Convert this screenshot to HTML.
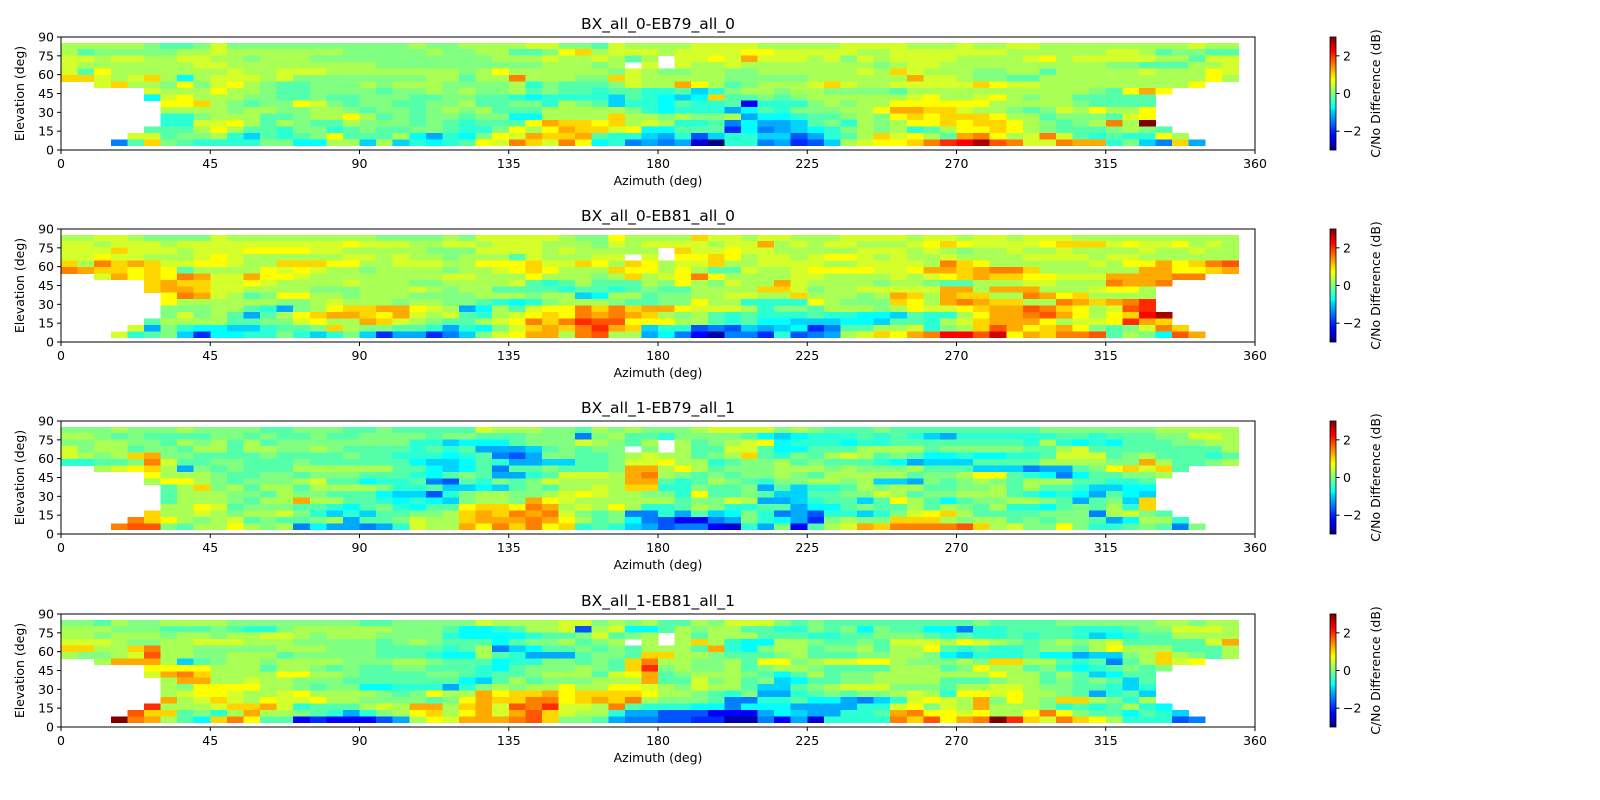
<!DOCTYPE html>
<html><head><meta charset="utf-8">
<style>
html,body{margin:0;padding:0;background:#fff;}
svg{display:block;font-family:"DejaVu Sans","Liberation Sans",sans-serif;}
</style></head>
<body>
<svg id="fig" width="1600" height="800" viewBox="0 0 1600 800" xmlns="http://www.w3.org/2000/svg">
<defs>
<linearGradient id="jet" x1="0" y1="1" x2="0" y2="0">
<stop offset="0" stop-color="#000080"/><stop offset="0.11" stop-color="#0000ff"/><stop offset="0.125" stop-color="#0000ff"/><stop offset="0.34" stop-color="#00ccff"/><stop offset="0.375" stop-color="#00ffff"/><stop offset="0.5" stop-color="#80ff80"/><stop offset="0.625" stop-color="#ffff00"/><stop offset="0.66" stop-color="#ffe000"/><stop offset="0.875" stop-color="#ff0000"/><stop offset="1" stop-color="#800000"/>
</linearGradient>
</defs>
</svg>
<script>
// Data: each char is a value level: a=-3 ... m=0 ... y=+3 (step 0.25); '.' = no data
// rows from top (elev ~85) to bottom (elev ~5); 71 azimuth bins of 5 deg
const titles = ["BX_all_0-EB79_all_0","BX_all_0-EB81_all_0","BX_all_1-EB79_all_1","BX_all_1-EB81_all_1"];
const xTicks = [0,45,90,135,180,225,270,315,360];
const yTicks = [0,15,30,45,60,75,90];
const cbTicks = [-2,0,2];
const cbTickLabels = ["\u22122","0","2"];
const azStep = 5;
const elTop = 85.4;
const elStep = 5.125;
const vmin = -3, vmax = 3;

const panel1 = [
"nnnnn mllmo mmmmm mmmmm mnmmn nnnoo mmlon nnnoo oonnn nnooo onnno nnoon nnnnn nnnon n",
"nlmmm mmnno nnnnn nnmmm mmnmm nnllm pqnoo onooo oppoo ooonn ooooo oonnn nnnoo nlmml l",
"oonoo nnoon nmnnn mmmmm mmmmm mnnno nnonl n.oop orooo nomon oooon nnnop noooo onnlo o",
"onnnn nnnoo nnnnn nnnnm mmmmm mmmmn nnmn. o.onn onnnn nnnnm noonn nnnnn nnnmm lllnn o",
"olpnn nnnnn onnoo onnnn nnnnm npnnn nnnmo nmmnn mmnnn nnnon qonnn mmnnl nnnnn onnnp o",
"qqono qnjno oonom mmmmm mmnnl nnsnn nmmqo nnnnn mmmmm nnnnn nroon mmlln nnnnn nnnnp n",
"..oqn nmpmo pnmll mmmnm nnnmm mmnkm lllmo nnrpn lmnnn oqonn ooooo qpoon nnnnn nnnp. .",
"..... onnnp nnmll mmmml mmnmn mmnlm llkll kklik mnnmn nmmmm lnnnn nnnnn nnmlp rp... .",
"..... jopnn nmmll mllmm mllmm llkjk kkkil kjijq llmlm nnnnn nopnn opnmn nllll l.... .",
"..... .ppqn mlmmp omlmm llmmn llmmk nmlik kjlkk ldkkk mnmnn ppppp pnnnn nmlll l.... .",
"..... .nnnn mnnmm nnmlm mlmnm nllln nnnnm kjkkk hjlkm mmnnp rrqqo nnmlm onpnn p.... .",
"..... .kkmn nnllm nnpnl mlmml mmjjn nnnqn nmnmm nhjjk llmnm pqpqq qpnnl mmmlo p.... .",
"..... .kkoo pnlnm llnmm mlmlk lllpr qqpqn onkkl gjhhi lmknm nppqp qqpnm lmnsn y.... .",
"..... lllnp nllkm mklml lmmlk kmpnp rqqop jjlll ejghi jkmnm nklnp pqpnm lllmn ml... .",
"....o olmmn kilkl mplll njhkj mporq qrlkk ihkfi kkiif hklnq opnlr spnos olklk kpn.. .",
"...gl qmlkk kkmmj jnnin ikjkl posqo spjkg hghca kkghe finop pqsuv xtsoo srrkm igqh. ."
];
const panel2 = [
"nnoon mmmmo nnnnn nnnnm mmmnm ooooo nmmpn nnnqo onoon nnooo onoon oonoo onnnn nnnnn n",
"oonoo onooo ooooo oopoo onnoo nooon nnmon oooon oorno noonn nopqp oooop qqqop oopno n",
"oooqo oonoo opppp oonnn nnmmm oooon onnnn n.qoo poonn nnnoo ononm nnonn onnnn onnon n",
"oopoo nnnop onnnn nnoon onnmn nnlon nnoo. o.ppq pnoon oppon onnon nnnoo oonoo nnnnn n",
"qnsqr qoopp onnqq qppnn ooonn pppqo oqpnq pnooq nnooo onnoo oonsq pnnnn nnonp prpqs t",
"srqqp qplnn nnpop onnmn nnnmn nopqp nnnqp pnpnl lonno ppppo oprrq rssqn nnnnn rrppq r",
"..orp qpsro orppo nnnnn nnnoo nnnpn nnmnq nopsp nnnno onnnn onopq rqqpp ooorr rrss. .",
"..... qrqqo oponn nnonn nmmnn nnolk lnlll nmpnm onnro nnnnm nnmll nnnoo nnnsr rs... .",
"..... qrrqo onnnn mmmnn nonmn nllll kllkl mllnn nnqqo mnnoo ooorr nrrrn nnopp n.... .",
"..... .psro nlmpp nnmnn nmmmm nnnmn nijnn lmmnn oonnq nnnmn rqnrq qnnsr pqnnn n.... .",
"..... .pnnn nnnmm nonnn mnnmm lkjkm nnnml lmmpn nkkkk pnmmm qpnrs rqqnn srqrs u.... .",
"..... .mmmn nlkhm npqqr rponh jnlop psqsq rrpoo onkmm lnnnm npoop qrrts qpnot u.... .",
"..... .momn lhlnp qrrqp ronol knopq psrsr qnmnl klkkk lkkjj ilkkn prrst rpnpq vx... .",
"..... lnnnn llmmo pnnrq onmll nopsq suttp ppnnl kljji iijji llkno qrrrp noopu rq... .",
"....o hmkjj iikll mqnmm llkhk jmoqr qsurq ikkfg fihij eglln nokmn qtrpq rpmlm osq.. .",
"...ok lmiej jkkmk ikmie hhegi moprr nstnn hjgdb ggekf ghnoq prsvv twprq sstln mjtr. ."
];
const panel3 = [
"mmmnm mmnmm mmllm mmllm lllll onnnm mlnmn mmmno ooomn mlllm lllll llllm mmmmm mnnnn n",
"nnmlm llllm mlmll mllmm mmlmm lllmm mgmnl lkmmm mljij kkklk lkihk kkkkk llkll lmmoo n",
"mmnnm mlnmn lnlmm mmmmm mkkij jjlmm monml n.nlm nopjk kkjkk lllll lllkn kjkjl llmmn n",
"omnnl mmlnn lnnmm nmlll lklkl hhhil mlmm. m.nll ooljj lllnn nnlmm mmmll nolll lllll n",
"onmnq rmmll llmll llmll kkkjk lgfhm mllmn onnlm nqlkm lnonl mljjk jjkkl ooolm nlllk l",
"kkllm sollm mlllm lllll ljiij lkhhi illmo opnnk lmmnl mlllk jhiii lllln nnnmm rnllm n",
"..nop qnhml mllln nnnnn lljij lgllm lllmr rnpnl mmmnn nmnmm mnlll iiigh hlmpq oql.. .",
"..... pnnnm llmml mmmll lkjlm lhhkl ooonr snmlm lmmnm lnnnn nlmmn pplkj gjllm mn... .",
"..... nppnm lmmmn olljk klgfl kmlmo nnnnr rlkln mlkmm nnmni ihmlm nmlnn nllkk l.... .",
"..... .lnqm nlnnl nnnnm kklii jilml nnonq qkkml lmhli kklnm nnllm mnlnl lkiij j.... .",
"..... .lnnn mmlnm mlllj iifkm nnmmn oponn mmkpl lmlii llmmo nlmmn nnlkj kjhlj i.... .",
"..... .lnnn mlnnr nnllk jkjim nnmrp onnnn nnlmm onhhi kllil pnljl mmnnm lhlmi q.... .",
"..... .nnpo lmmml lkjlm kjllp qqpsr nonpn kklnm kkllh jjlml lnlnm lnkkj lmlnk q.... .",
"..... qnnon mnnom kikil lmmnq rqsrs omlmg gkhli jmkgh fkkik mopqn llllm mmgno ml... .",
"....s qpnmn olmll mnhll monnq rrrsr pnlmj gfddg hmkjh emnmm qqqnm nnlml mmlhj nnk.. .",
"...st tmlnn pnmng jhhgh konnr psqsp qklki hfggd ckhmd lnorq sssst qnomm pmkkl mlgm. ."
];
const panel4 = [
"mmlnm mnnnn mmmmm mmmll mmmmm onnnn oomnm nllnm oooml mllll lllll mllll mmmmm mnnmn n",
"nnnmm mlllm lkkmn nnnnn mmmlj jklnn ofnoj jlnmn nllkk mlmjm lljjg kklll lkkkl mmooo n",
"nnmnn nmnnm nnoon mnnnm mmmkj jjjkl lmolm n.nln nnlll kkllm mmlkl kklkl lkijk llnnn n",
"ooonm mnnoo onnnm mmmml mnmll ljlmm nlmn. n.nqn kjjnn mllml ooonp onmlm nmnol llllo r",
"qqnnq snnmm mmmnn nmmml lllkl ngijl lmlml nnnlr kjmnn lmmnl nnplk lkklm mlnpn nnlll n",
"nmmno tnnmm nnnlm mmmml llkjj nlkhh hlmml qqnnm lllmn lllmm nnmji kkklj jhiim nqnml n",
"..nrr rnilm nnmnn nnmmm nnmll ljkkm mlmlq snnmm nlppm noopp nmmmn mqqnn lklgl nqop. .",
"..... ppppn nnlnn mlmll mmlll kjlmm mnmlq umnmm nlmnn mllll nnnlm pnnlm kjklm lm... .",
"..... orsqn nnnpp nnmll llmml kllmn nnlop rlmnn nmljl nlmmn nnnnn npnnl nlijl l.... .",
"..... .nrrn nonnm mmlll llllj ilnlm mmnnn rllom nlmij llmmn nnnll lmnnl mlmli l.... .",
"..... .nmpp ppnnm lmmjj kkkhk mnmnn pnnpp onmon nliil mnooo mmmln noonm mllki k.... .",
"..... .nopp onnop nnnnm lmpnn rpqqr pqqqq pnnml kmhhk lmlmm nonkp popnn mlhkl i.... .",
"..... .rnoq onpoo pnnmm mmlmp rqqss pqrqs nmmml ggkkl jjhgi kopon rmpnm qqnmk n.... .",
"..... unnno qqrok lllno nrrnq rotsu oonsl kkkjj gjjjh hhhkk opmon rnnnm klkln kj... .",
"....t qqlmk nrnnm lkhkm npqnp rortq onnkh hfffd ddhji hhkkl rsppo pnnps pmllj lki.. .",
"...ys rnljq splld edddf hnpor rrstq mmlhg gffee bbgdh ckkkk sqtpr syuqo sqpnk kkfg. ."
];
const panels = [panel1, panel2, panel3, panel4];

const NS = "http://www.w3.org/2000/svg";
const svg = document.getElementById('fig');
const L = 61, R = 1255, H = 113;
const tops = [37, 229, 421, 614];
const cbX = 1330, cbW = 6;

function mk(tag, attrs, parent){ const e=document.createElementNS(NS,tag); for(const k in attrs) e.setAttribute(k,attrs[k]); (parent||svg).appendChild(e); return e; }
function clip(x){ return Math.max(0, Math.min(1, x)); }
function jet(v){
  const t = clip((v - vmin)/(vmax - vmin));
  const r = clip(1.5 - Math.abs(4*t-3)), g = clip(1.5 - Math.abs(4*t-2)), b = clip(1.5 - Math.abs(4*t-1));
  return 'rgb('+Math.round(r*255)+','+Math.round(g*255)+','+Math.round(b*255)+')';
}
function decode(ch){ return ch === '.' ? null : vmin + (ch.charCodeAt(0)-97)*0.25; }

panels.forEach((rows, p) => {
  const top = tops[p], bot = top + H;
  const xs = az => L + az*(R-L)/360;
  const ys = el => bot - el*H/90;
  const g = mk('g', {});
  
  
  const cells = mk('g', {'shape-rendering':'crispEdges'}, g);
  
  
  rows.forEach((row, r) => {
    const s = row.replace(/ /g,'');
    for (let c = 0; c < s.length; c++) {
      const v = decode(s[c]);
      if (v === null) continue;
      const x0 = xs(c*azStep), x1 = xs((c+1)*azStep);
      const y0 = ys(elTop - r*elStep), y1 = ys(elTop - (r+1)*elStep);
      const rc = mk('rect', {x:x0.toFixed(2), y:y0.toFixed(2), width:(x1-x0+0.4).toFixed(2), height:(y1-y0+0.4).toFixed(2), fill:jet(v)}, cells);
      
      
    }
  });
  const fr = mk('rect', {x:L, y:top, width:R-L, height:H, fill:'none', stroke:'#000', 'stroke-width':1}, g);
  
  
  xTicks.forEach(t => {
    const x = xs(t);
    mk('line', {x1:x, y1:bot, x2:x, y2:bot+4, stroke:'#000'}, g);
    const tx = mk('text', {x:x, y:bot+18, 'font-size':12.5, 'text-anchor':'middle', fill:'#000'}, g);
    tx.textContent = t;
    
    
  });
  yTicks.forEach(t => {
    const y = ys(t);
    mk('line', {x1:L-4, y1:y, x2:L, y2:y, stroke:'#000'}, g);
    const tx = mk('text', {x:L-7, y:y+4.5, 'font-size':12.5, 'text-anchor':'end', fill:'#000'}, g);
    tx.textContent = t;
    
    
  });
  const ti = mk('text', {x:(L+R)/2, y:top-8, 'font-size':15.5, 'text-anchor':'middle', fill:'#000'}, g);
  ti.textContent = titles[p];
  
  
  const xl = mk('text', {x:(L+R)/2, y:bot+35, 'font-size':12.5, 'text-anchor':'middle', fill:'#000'}, g);
  xl.textContent = 'Azimuth (deg)';
  
  
  const yl = mk('text', {x:0, y:0, 'font-size':12.5, 'text-anchor':'middle', fill:'#000', transform:'translate(24,'+(top+H/2)+') rotate(-90)'}, g);
  yl.textContent = 'Elevation (deg)';
  
  
  // colorbar
  const cb = mk('g', {}, g);
  
  
  mk('rect', {x:cbX, y:top, width:cbW, height:H, fill:'url(#jet)', stroke:'#000', 'stroke-width':0.8}, cb);
  cbTicks.forEach((t,i) => {
    const y = top + (vmax - t)/(vmax-vmin)*H;
    mk('line', {x1:cbX+cbW, y1:y, x2:cbX+cbW+3.5, y2:y, stroke:'#000'}, cb);
    const tx = mk('text', {x:cbX+cbW+7, y:y+4.5, 'font-size':12.5, fill:'#000'}, cb);
    tx.textContent = cbTickLabels[i];
    
    
  });
  const cl = mk('text', {x:0, y:0, 'font-size':12.5, 'text-anchor':'middle', fill:'#000', transform:'translate(1380,'+(top+H/2)+') rotate(-90)'}, cb);
  cl.textContent = 'C/No Difference (dB)';
  
  
});
</script>
</body></html>
